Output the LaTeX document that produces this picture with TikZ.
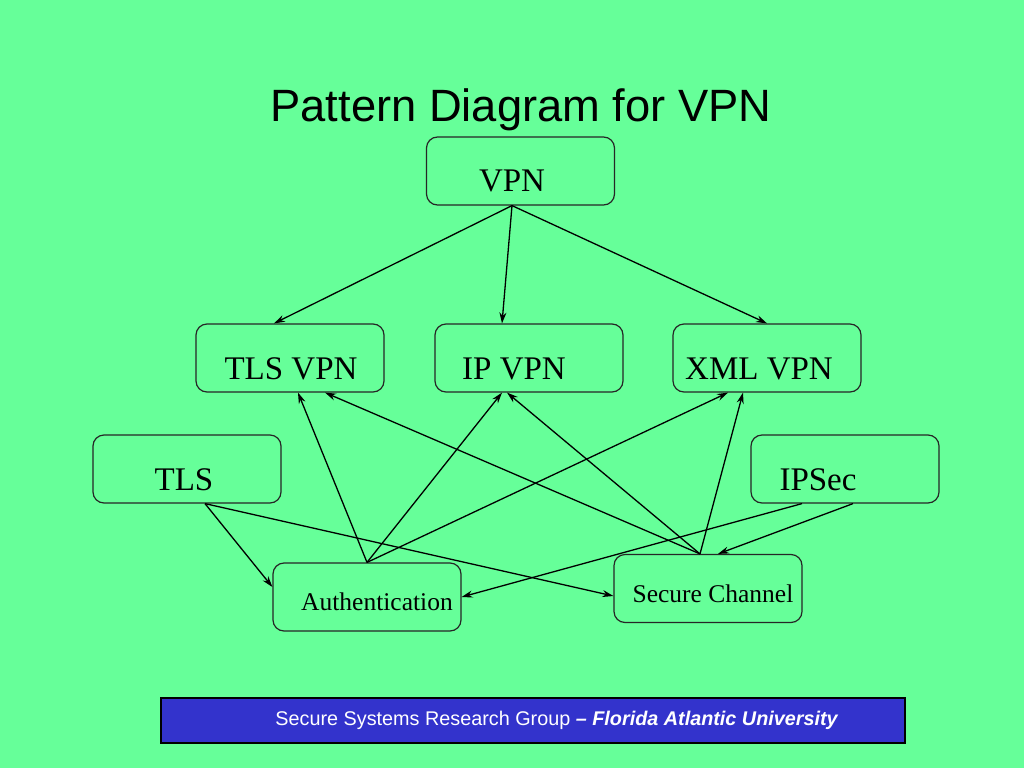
\documentclass[tikz,border=0pt]{standalone}
\usepackage{fontspec}
\setmainfont{Liberation Serif}
\newfontfamily\arialfont{Liberation Sans}
\usetikzlibrary{arrows.meta}
\definecolor{bggreen}{RGB}{102,255,153}
\definecolor{footblue}{RGB}{51,51,204}
\begin{document}
\begin{tikzpicture}[x=1pt,y=-1pt,
  box/.style={draw=black!85,line width=1.2pt,rounded corners=11pt,minimum width=188pt,minimum height=68pt,inner sep=0pt},
  lbl/.style={inner sep=0pt,font=\fontsize{33}{37}\selectfont},
  slbl/.style={inner sep=0pt,font=\fontsize{25.5}{29}\selectfont},
  arr/.style={draw=black,line width=1.3pt,-{Stealth[length=11pt,width=7pt]}}]
\fill[bggreen] (0,0) rectangle (1024,768);
\useasboundingbox (0,0) rectangle (1024,768);
% title
\node[inner sep=0pt,font=\arialfont\fontsize{45.3}{50}\selectfont] (title) at (521,110) {Pattern Diagram for VPN};
% boxes
\node[box] (vpn) at (520.5,171) {};
\node[box] (tlsvpn) at (290,358) {};
\node[box] (ipvpn) at (529,358) {};
\node[box] (xmlvpn) at (767,358) {};
\node[box] (tls) at (187,469) {};
\node[box] (ipsec) at (845,469) {};
\node[box] (auth) at (367,597) {};
\node[box] (sc) at (708,588.5) {};
% labels
\node[lbl] (vpnt) at (512,181) {VPN};
\node[lbl] (tlsvpnt) at (291,369) {TLS VPN};
\node[lbl] (ipvpnt) at (514,369) {IP VPN};
\node[lbl] (xmlvpnt) at (759,369) {XML VPN};
\node[lbl] (tlst) at (184,480) {TLS};
\node[lbl] (ipsect) at (818,480) {IPSec};
\node[slbl] (autht) at (377,602) {Authentication};
\node[slbl] (sct) at (713,594) {Secure Channel};
% arrows from VPN
\draw[arr] ([xshift=-8.5pt]vpn.south) -- ([xshift=-16pt]tlsvpn.north);
\draw[arr] ([xshift=-8.5pt]vpn.south) -- ([xshift=-27pt]ipvpn.north);
\draw[arr] ([xshift=-8.5pt]vpn.south) -- (xmlvpn.north);
% TLS
\draw[arr] ([xshift=18pt]tls.south) -- ([yshift=10pt]auth.west);
\draw[arr] ([xshift=18pt]tls.south) -- ([yshift=-7.5pt]sc.west);
% IPSec
\draw[arr] ([xshift=-43pt]ipsec.south) -- (auth.east);
\draw[arr] ([xshift=8pt]ipsec.south) -- ([xshift=10pt]sc.north);
% Authentication
\draw[arr] (auth.north) -- ([xshift=8pt]tlsvpn.south);
\draw[arr] (auth.north) -- ([xshift=-27pt]ipvpn.south);
\draw[arr] (auth.north) -- ([xshift=-39pt]xmlvpn.south);
% Secure Channel
\draw[arr] ([xshift=-8pt]sc.north) -- ([xshift=35pt]tlsvpn.south);
\draw[arr] ([xshift=-8pt]sc.north) -- ([xshift=-22pt]ipvpn.south);
\draw[arr] ([xshift=-8pt]sc.north) -- ([xshift=-24pt]xmlvpn.south);
% footer
\node[draw=black,line width=2.5pt,fill=footblue,minimum width=744pt,minimum height=45pt,inner sep=0pt] (footer) at (533,720.5) {};
\node[inner sep=0pt,text=white,font=\arialfont\fontsize{19.8}{22}\selectfont] (foottext) at (557,720) {Secure Systems Research Group \textbf{\textit{– Florida Atlantic University}}};
\end{tikzpicture}
\end{document}
